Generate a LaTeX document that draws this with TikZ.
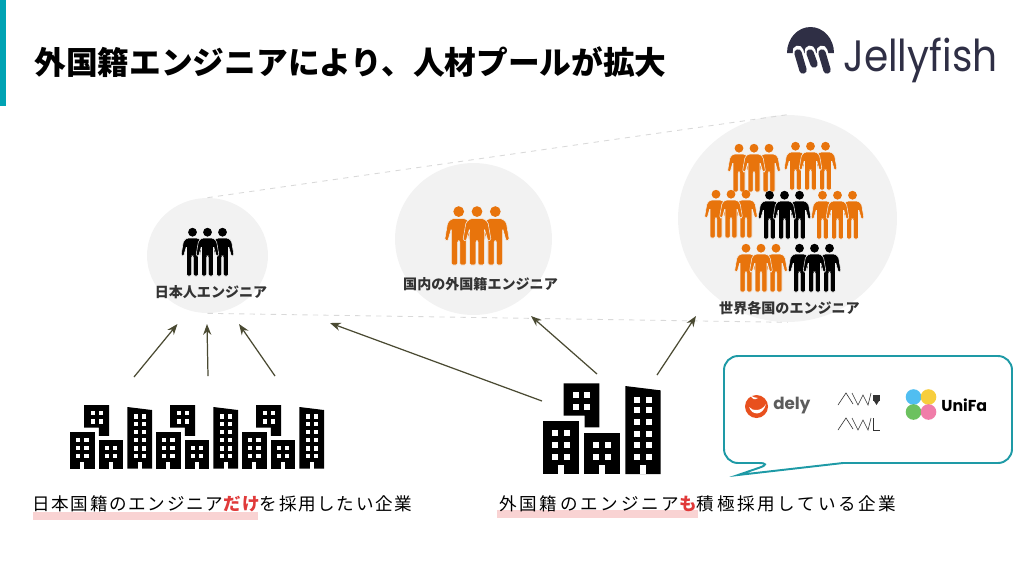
\documentclass[tikz,border=0pt]{standalone}
\usepackage{fontspec}
\setmainfont{Noto Sans CJK JP}
\newfontfamily\capfontA[LetterSpace=9.5]{Noto Sans CJK JP}
\newfontfamily\capfontB[LetterSpace=15.5]{Noto Sans CJK JP}
\newfontfamily\logofont{Poppins}
\usetikzlibrary{shapes.geometric, arrows.meta, positioning, calc}
\definecolor{Teal}   {HTML}{00A3B4}
\definecolor{Bubble} {HTML}{1E9AA6}
\definecolor{Pool}   {HTML}{F2F2F2}
\definecolor{Orange} {HTML}{E8740C}
\definecolor{Olive}  {HTML}{4A4A32}
\definecolor{Rule}   {HTML}{D9D9D9}
\definecolor{Pink}   {HTML}{F9D3D3}
\definecolor{Accent} {HTML}{E03A3A}
\definecolor{Ink}    {HTML}{2F2F45}
\definecolor{Label}  {HTML}{333333}
\definecolor{Flame}  {HTML}{E8501E}
\definecolor{DotBlue}{HTML}{3DB8F0}
\definecolor{DotYel} {HTML}{F7C928}
\definecolor{DotGrn} {HTML}{5DBB4E}
\definecolor{DotPnk} {HTML}{EF6FA0}
\tikzset{
  pool/.style={ellipse,fill=Pool,inner sep=0pt},
  lbl/.style={font=\fontsize{8pt}{10pt}\selectfont\bfseries,text=Label,inner sep=0pt},
  arr/.style={-Stealth,line width=0.7pt,color=Olive},
  zoomline/.style={dashed,color=Rule,line width=0.5pt},
  pics/trio/.style={code={
    \foreach \px in {-15,15,0}{
      \begin{scope}[shift={(\px,0)}]
        \fill[#1] (0,-43.8) circle (4.4);
        \fill[#1,draw=Pool,line width=0.3pt,rounded corners=0.8pt]
          (-5.5,-38) -- (5.5,-38) -- (9,-35) -- (11.5,-20.5) -- (9,-19.5) -- (6,-30)
          -- (6,0) -- (0.9,0) -- (0.9,-20) -- (-0.9,-20) -- (-0.9,0) -- (-6,0) -- (-6,-30)
          -- (-9,-19.5) -- (-11.5,-20.5) -- (-9,-35) -- cycle;
      \end{scope}
    }
  }},
  pics/office/.style={code={
    \fill[black] (61,-272) -- (168,-272) -- (168,-140) -- (124,-140) -- (124,-175) -- (61,-175) -- cycle;
    \fill[black] (0,-158) rectangle (106,0);
    \fill[black] (123,-124) rectangle (229,0);
    \fill[black] (246,-264) -- (352,-251) -- (352,0) -- (246,0) -- cycle;
    \foreach \wx/\wy in {27/-131,62/-131,27/-96,62/-96,27/-61,62/-61,
                         150/-96,185/-96,150/-61,185/-61,
                         273/-232,308/-232,273/-200,308/-200,273/-165,308/-165,
                         273/-130,308/-130,273/-95,308/-95,273/-61,308/-61,
                         88/-247,123/-247,88/-211,123/-211}
      \fill[white] (\wx,\wy) rectangle ++(18,18);
    \foreach \wx in {44,167,290}
      \fill[white] (\wx,-27) rectangle ++(18,27);
  }},
  pics/awlmark/.style={code={
    \draw[color=Label,line width=0.35pt]
      (0,12) -- (8,0) -- (15,11) (14,0) -- (20,12) -- (25,2) -- (30,12) -- (33,0);
  }}
}
\begin{document}
\begin{tikzpicture}[x=0.02cm,y=-0.02cm]
  \useasboundingbox (0,0) rectangle (1024,576);
  \fill[Teal] (0,0) rectangle (6,106);
  \node[anchor=west,inner sep=0pt,font=\fontsize{18.05pt}{20pt}\selectfont\bfseries] (Title) at (34,62)
    {外国籍エンジニアにより、人材プールが拡大};

  % logo
  \fill[Ink] (787,53) arc[start angle=180,end angle=360,x radius=23.5,y radius=26] -- cycle;
  \foreach \ta/\tb in {798/803,810/814,822/827}
    \draw[white,line width=6.2pt,line cap=round] (\ta,51) -- (\tb,70);
  \foreach \ta/\tb/\tc in {798/803/70,810/814/64,822/827/70}
    \draw[Ink,line width=4.2pt,line cap=round] (\ta,53) -- (\tb,\tc);
  \node[anchor=base west,inner sep=0pt,xscale=.89,text=Ink,font=\fontsize{25pt}{28pt}\logofont] (Logo) at (843,71) {Jellyfish};

  % pools
  \node[pool,minimum width=2.42cm,minimum height=2.30cm] (PoolJP) at (207.5,255.5) {};
  \node[pool,minimum width=3.14cm,minimum height=3.04cm] (PoolDom) at (473.5,239) {};
  \node[pool,minimum width=4.38cm,minimum height=4.14cm] (PoolWorld) at (787.5,218.5) {};
  \draw[zoomline] (PoolJP.north) -- (PoolWorld.north);
  \draw[zoomline] (PoolJP.south) -- (PoolWorld.south);

  \pic at (207.5,276) {trio=black};
  \pic[scale=1.22] at (477,265) {trio=Orange};
  \pic at (754,192) {trio=Orange};
  \pic at (810.5,190) {trio=Orange};
  \pic at (731,238) {trio=Orange};
  \pic at (784.5,239) {trio=black};
  \pic at (837.5,239) {trio=Orange};
  \pic at (761,292) {trio=Orange};
  \pic at (814.5,292) {trio=black};

  \node[lbl] (LblJP) at (211,292) {日本人エンジニア};
  \node[lbl] (LblDom) at (480.5,284) {国内の外国籍エンジニア};
  \node[lbl] (LblWorld) at (789.5,308) {世界各国のエンジニア};

  % companies
  \pic[scale=0.233] at (70,468.5) {office};
  \pic[scale=0.233] at (156,468.5) {office};
  \pic[scale=0.233] at (242,468.5) {office};
  \pic[scale=0.3333] at (543.3,474) {office};

  % arrows
  \coordinate (Ja) at (134,377); \coordinate (JaEnd) at (177.5,324);
  \coordinate (Jb) at (208,376); \coordinate (JbEnd) at (207,324);
  \coordinate (Jc) at (275,376); \coordinate (JcEnd) at (239,324);
  \coordinate (Fa) at (542,401); \coordinate (FaEnd) at (330,323);
  \coordinate (Fb) at (597,374); \coordinate (FbEnd) at (531,316);
  \coordinate (Fc) at (657,375); \coordinate (FcEnd) at (696,316);
  \draw[arr](Ja)--(JaEnd); \draw[arr](Jb)--(JbEnd); \draw[arr](Jc)--(JcEnd);
  \draw[arr](Fa)--(FaEnd); \draw[arr](Fb)--(FbEnd); \draw[arr](Fc)--(FcEnd);

  % captions
  \fill[Pink] (33,512) rectangle (258,520);
  \fill[Pink] (497,510) rectangle (698,518);
  \node[anchor=west,inner sep=0pt,font=\fontsize{10pt}{12pt}\capfontA] (CapJP) at (32,504)
    {日本国籍のエンジニア\textcolor{Accent}{\bfseries だけ}を採用したい企業};
  \node[anchor=west,inner sep=0pt,font=\fontsize{10pt}{12pt}\capfontB] (CapFor) at (499,504)
    {外国籍のエンジニア\textcolor{Accent}{\bfseries も}積極採用している企業};

  % bubble
  \draw[Bubble,line width=1.1pt,fill=white,rounded corners=8pt]
    (843,463) -- (1012,463) -- (1012,356) -- (724,356) -- (724,463) -- (773,463) [sharp corners] -- (738,475) -- cycle;

  % client logos
  \fill[Flame] (756.5,406.5) circle (11.5);
  \fill[white] (749,407) .. controls (752,416) and (763,416) .. (766,404)
    .. controls (762,411) and (753,412) .. cycle;
  \fill[white] (750,394) .. controls (752,397) and (755,398) .. (758,398)
    .. controls (755,400) and (752,400) .. cycle;
  \node[anchor=west,inner sep=0pt,text=Label!80,font=\fontsize{9.5pt}{12pt}\logofont\bfseries] (Dely) at (773,406) {dely};
  \pic at (838,393) {awlmark};
  \fill[Label] (873,395) rectangle (880,401);
  \fill[Label] (874,401) -- (879,401) -- (876.5,405) -- cycle;
  \pic at (838,418) {awlmark};
  \draw[color=Label,line width=0.35pt] (873,418) -- (873,430) -- (880,430);
  \fill[DotBlue,opacity=.9] (913.5,397) circle (7.8);
  \fill[DotYel,opacity=.9] (928.5,397) circle (7.8);
  \fill[DotGrn,opacity=.9] (913.5,412) circle (7.8);
  \fill[DotPnk,opacity=.9] (928.5,412) circle (7.8);
  \node[anchor=west,inner sep=0pt,font=\fontsize{9pt}{12pt}\logofont\bfseries] (UniFa) at (941,405) {UniFa};
\end{tikzpicture}
\end{document}
